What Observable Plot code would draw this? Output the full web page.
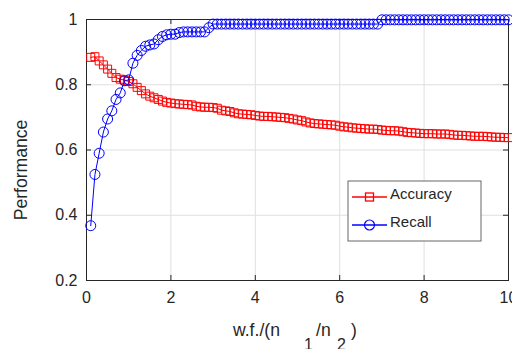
<!DOCTYPE html>
<html>
<head>
<meta charset="utf-8">
<script src="https://cdn.jsdelivr.net/npm/d3@7"></script>
<script src="https://cdn.jsdelivr.net/npm/@observablehq/plot@0.6"></script>
<style>
  html, body { margin: 0; padding: 0; background: #fff; }
  #chart { width: 512px; height: 349px; overflow: hidden; }
</style>
</head>
<body>
<div id="chart"></div>
<script>
const xs = [0.1,0.2,0.3,0.4,0.5,0.6,0.7,0.8,0.9,1.0,
  1.1,1.2,1.3,1.4,1.5,1.6,1.7,1.8,1.9,2.0,
  2.1,2.2,2.3,2.4,2.5,2.6,2.7,2.8,2.9,3.0,
  3.1,3.2,3.3,3.4,3.5,3.6,3.7,3.8,3.9,4.0,
  4.1,4.2,4.3,4.4,4.5,4.6,4.7,4.8,4.9,5.0,
  5.1,5.2,5.3,5.4,5.5,5.6,5.7,5.8,5.9,6.0,
  6.1,6.2,6.3,6.4,6.5,6.6,6.7,6.8,6.9,7.0,
  7.1,7.2,7.3,7.4,7.5,7.6,7.7,7.8,7.9,8.0,
  8.1,8.2,8.3,8.4,8.5,8.6,8.7,8.8,8.9,9.0,
  9.1,9.2,9.3,9.4,9.5,9.6,9.7,9.8,9.9,10.0];

const accuracy = [0.884,0.886,0.873,0.861,0.848,0.835,0.822,0.817,0.814,0.810,
  0.803,0.792,0.782,0.772,0.765,0.760,0.755,0.750,0.746,0.744,
  0.742,0.741,0.740,0.739,0.738,0.734,0.732,0.731,0.731,0.730,
  0.728,0.722,0.720,0.718,0.714,0.711,0.710,0.709,0.708,0.706,
  0.704,0.703,0.703,0.702,0.701,0.700,0.699,0.697,0.695,0.692,
  0.690,0.686,0.683,0.681,0.680,0.679,0.678,0.677,0.676,0.673,
  0.671,0.670,0.668,0.667,0.666,0.665,0.664,0.664,0.663,0.661,
  0.660,0.659,0.659,0.658,0.656,0.654,0.653,0.652,0.651,0.650,
  0.650,0.650,0.649,0.649,0.649,0.648,0.646,0.645,0.645,0.644,
  0.643,0.642,0.642,0.642,0.641,0.640,0.639,0.639,0.638,0.638];

const recall = [0.368,0.525,0.590,0.655,0.695,0.720,0.755,0.775,0.812,0.815,
  0.866,0.890,0.905,0.918,0.922,0.925,0.938,0.948,0.953,0.955,
  0.955,0.960,0.962,0.962,0.962,0.962,0.962,0.962,0.975,0.986,
  0.986,0.986,0.986,0.986,0.986,0.986,0.986,0.986,0.986,0.986,
  0.986,0.986,0.986,0.986,0.986,0.986,0.986,0.986,0.986,0.986,
  0.986,0.986,0.986,0.986,0.986,0.986,0.986,0.986,0.986,0.986,
  0.986,0.986,0.986,0.986,0.986,0.986,0.986,0.986,0.986,0.999,
  0.999,0.999,0.999,0.999,0.999,0.999,0.999,0.999,0.999,0.999,
  0.999,0.999,0.999,0.999,0.999,0.999,0.999,0.999,0.999,0.999,
  0.999,0.999,0.999,0.999,0.999,0.999,0.999,0.999,0.999,0.999];

const xTicks = [0, 2, 4, 6, 8, 10];
const yTicks = [0.2, 0.4, 0.6, 0.8, 1];
const seriesNames = ["Accuracy", "Recall"];
const yLabel = "Performance";

const data = xs.map((x, i) => ({x, acc: accuracy[i], rec: recall[i]}));

const W = 512, H = 349;
const mL = 86, mR = 4, mT = 19, mB = 69;
const innerW = W - mL - mR, innerH = H - mT - mB;
const tickLen = 5;
const FONT = "'Liberation Sans', Arial, Helvetica, sans-serif";
const TXT = "#262626";
const RED = "#ff0000", BLUE = "#0000ff";

const plot = Plot.plot({
  width: W, height: H,
  marginLeft: mL, marginRight: mR, marginTop: mT, marginBottom: mB,
  style: {fontFamily: FONT, color: TXT, background: "#fff", overflow: "visible"},
  x: {domain: [0, 10]},
  y: {domain: [0.2, 1]},
  marks: [
    Plot.gridX(xTicks, {stroke: "#dfdfdf", strokeOpacity: 1}),
    Plot.gridY(yTicks, {stroke: "#dfdfdf", strokeOpacity: 1}),
    Plot.frame({stroke: "#262626", strokeWidth: 1}),
    // inward tick marks (bottom, top, left, right)
    Plot.tickX(xTicks, {x: d => d, stroke: "#262626", insetTop: innerH - tickLen}),
    Plot.tickX(xTicks, {x: d => d, stroke: "#262626", insetBottom: innerH - tickLen}),
    Plot.tickY(yTicks, {y: d => d, stroke: "#262626", insetRight: innerW - tickLen}),
    Plot.tickY(yTicks, {y: d => d, stroke: "#262626", insetLeft: innerW - tickLen}),
    Plot.axisX({ticks: xTicks, tickSize: 0, tickPadding: 11.6, fontSize: 16, label: null, tickFormat: d => String(d)}),
    Plot.axisY({ticks: yTicks, tickSize: 0, tickPadding: 9, fontSize: 16, label: null, tickFormat: d => d === 1 ? "1" : d.toFixed(1)}),
    // Accuracy
    Plot.line(data, {x: "x", y: "acc", stroke: RED, strokeWidth: 1}),
    Plot.dot(data, {x: "x", y: "acc", symbol: "square", r: 4.5, stroke: RED, fill: "none", strokeWidth: 1}),
    // Recall
    Plot.line(data, {x: "x", y: "rec", stroke: BLUE, strokeWidth: 1}),
    Plot.dot(data, {x: "x", y: "rec", symbol: "circle", r: 5, stroke: BLUE, fill: "none", strokeWidth: 1})
  ]
});

document.getElementById("chart").appendChild(plot);

const svg = d3.select(plot);

// Y-axis label
svg.append("text")
  .attr("transform", "translate(27,170) rotate(-90)")
  .attr("text-anchor", "middle")
  .style("font-family", FONT)
  .style("font-size", "17.6px")
  .style("fill", TXT)
  .text(yLabel);

// X-axis label with subscripts (MATLAB-like spacing)
const xl = svg.append("g").style("font-family", FONT).style("font-size", "17.6px")
  .style("fill", TXT).attr("text-anchor", "start");
xl.append("text").attr("x", 233).attr("y", 336).text("w.f./(n");
xl.append("text").attr("x", 304).attr("y", 349.5).style("font-size", "16px").text("1");
xl.append("text").attr("x", 316).attr("y", 336).text("/n");
xl.append("text").attr("x", 337).attr("y", 349.5).style("font-size", "16px").text("2");
xl.append("text").attr("x", 351).attr("y", 336).text(")");

// Legend
const lg = svg.append("g").attr("text-anchor", "start");
lg.append("rect").attr("x", 348).attr("y", 181).attr("width", 133).attr("height", 60)
  .style("fill", "#fff").style("stroke", "#666").style("stroke-width", "1px");
const entries = [
  {name: seriesNames[0], color: RED, sym: "square", y: 197},
  {name: seriesNames[1], color: BLUE, sym: "circle", y: 225}
];
entries.forEach(e => {
  lg.append("line").attr("x1", 352).attr("x2", 387).attr("y1", e.y).attr("y2", e.y)
    .style("stroke", e.color).style("stroke-width", "1.3px");
  if (e.sym === "square") {
    lg.append("rect").attr("x", 369.5 - 4).attr("y", e.y - 4).attr("width", 8).attr("height", 8)
      .style("fill", "none").style("stroke", e.color).style("stroke-width", "1.3px");
  } else {
    lg.append("circle").attr("cx", 369.5).attr("cy", e.y).attr("r", 5)
      .style("fill", "none").style("stroke", e.color).style("stroke-width", "1.2px");
  }
  lg.append("text").attr("x", 390).attr("y", e.y + 2)
    .style("font-family", FONT).style("font-size", "15px").style("fill", TXT)
    .attr("text-anchor", "start").text(e.name);
});
</script>
</body>
</html>
